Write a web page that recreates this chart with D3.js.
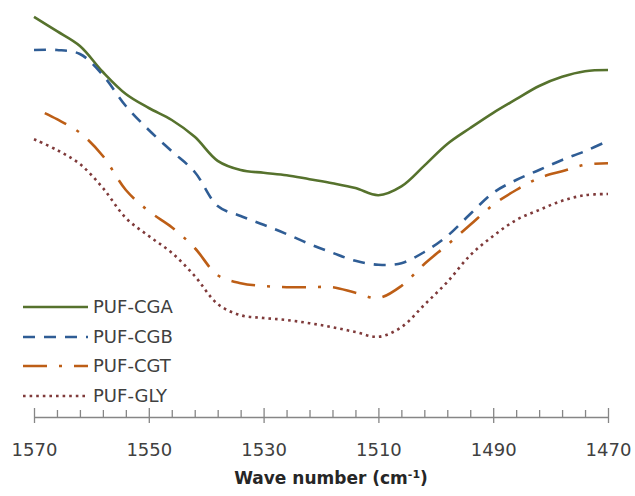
<!DOCTYPE html>
<meta charset="utf-8">
<style>
body { margin: 0; background: #fff; }
.tick text, .legend text { font-family: "DejaVu Sans", Verdana, sans-serif; fill: #404040; }
.axis path, .axis line { stroke: #868686; stroke-width: 1.3; }
.line { fill: none; stroke-width: 2.6; }
</style>
<body>
<script src="https://cdnjs.cloudflare.com/ajax/libs/d3/7.8.5/d3.min.js"></script>
<script>
// wave numbers (cm-1), every 4 units
const waveNumbers = [1570, 1566, 1562, 1558, 1554, 1550, 1546, 1542, 1538, 1534, 1530, 1526, 1522,
                     1518, 1514, 1510, 1506, 1502, 1498, 1494, 1490, 1486, 1482, 1478, 1474, 1470];

// transmittance, arbitrary units
const cga = [100.8, 97.2, 93.5, 87.0, 81.5, 78.0, 75.0, 70.8, 64.8, 62.5, 61.8, 61.2, 60.2,
             59.2, 58.0, 56.2, 58.4, 63.6, 69.0, 73.0, 76.8, 80.2, 83.5, 85.8, 87.2, 87.5];
const cgb = [92.5, 92.5, 91.5, 86.2, 78.5, 72.5, 67.2, 62.0, 53.5, 51.0, 48.8, 46.5, 44.0,
             41.8, 39.8, 38.8, 39.2, 42.0, 46.0, 51.5, 56.8, 60.0, 62.5, 65.0, 67.2, 69.8];
const cgt = [78.0, 75.2, 71.8, 66.0, 57.5, 52.2, 48.2, 43.0, 36.2, 34.2, 33.5, 33.2, 33.2,
             33.2, 31.8, 30.5, 33.5, 39.0, 43.8, 48.8, 53.8, 57.5, 60.5, 62.2, 63.8, 64.2];
const gly = [70.2, 67.5, 64.0, 58.0, 50.5, 46.0, 41.8, 36.0, 29.0, 26.2, 25.5, 25.0, 24.2,
             23.2, 22.0, 20.8, 23.2, 28.8, 34.5, 41.2, 46.0, 50.0, 52.5, 54.8, 56.2, 56.5];

const seriesNames = ["PUF-CGA", "PUF-CGB", "PUF-CGT", "PUF-GLY"];
const majorTicks = [1570, 1550, 1530, 1510, 1490, 1470];

const styles = [
  {color: "#56722d", dash: null, offset: 0},
  {color: "#2f5d95", dash: "12,9", offset: 0},
  {color: "#bd5e16", dash: "24,12,3,12", offset: 39},
  {color: "#7f3a3a", dash: "2.6,4", offset: 0}
];

const series = [cga, cgb, cgt, gly].map((vals, i) => ({
  name: seriesNames[i],
  values: vals.map((v, j) => ({w: waveNumbers[j], v: v}))
}));

const width = 635, height = 496, axisY = 417;

const x = d3.scaleLinear().domain([1570, 1470]).range([34, 608]);
const y = d3.scaleLinear().domain([0, 100]).range([420, 20]);

const svg = d3.select("body").append("svg")
    .attr("width", width)
    .attr("height", height);

const line = d3.line()
    .x(d => x(d.w))
    .y(d => y(d.v))
    .curve(d3.curveCatmullRom.alpha(0.5));

svg.selectAll(".line")
    .data(series)
  .enter().append("path")
    .attr("class", "line")
    .attr("d", d => line(d.values))
    .attr("stroke", (d, i) => styles[i].color)
    .attr("stroke-dasharray", (d, i) => styles[i].dash)
    .attr("stroke-dashoffset", (d, i) => styles[i].offset);

// minor ticks (inside, pointing up)
const minor = d3.range(1566, 1470, -4).filter(v => majorTicks.indexOf(v) < 0);
svg.append("g")
    .attr("class", "axis")
    .attr("transform", "translate(0," + axisY + ")")
    .call(d3.axisBottom(x).tickValues(minor).tickSize(-7).tickFormat(""))
    .select(".domain").remove();

// major ticks (cross) and labels
const gx = svg.append("g")
    .attr("class", "axis")
    .attr("transform", "translate(0," + axisY + ")")
    .call(d3.axisBottom(x).tickValues(majorTicks).tickSize(6).tickSizeOuter(0)
          .tickPadding(20).tickFormat(d3.format("d")));
gx.selectAll(".tick line").attr("y1", -9);
gx.selectAll(".tick text").style("font-size", "18px");

svg.append("text")
    .attr("x", 331)
    .attr("y", 484)
    .attr("text-anchor", "middle")
    .style("font-family", "'DejaVu Sans', Verdana, sans-serif")
    .style("font-weight", "bold")
    .style("font-size", "17px")
    .style("fill", "#262626")
    .html("Wave number (cm<tspan dy='-6' font-size='11px'>-1</tspan><tspan dy='6'>)</tspan>");

// legend
const legend = svg.append("g").attr("class", "legend")
  .selectAll("g")
    .data(series)
  .enter().append("g")
    .attr("transform", (d, i) => "translate(23," + [307, 337, 366, 396][i] + ")");

legend.append("line")
    .attr("x1", 0).attr("x2", 65)
    .attr("stroke-width", 2.6)
    .attr("stroke", (d, i) => styles[i].color)
    .attr("stroke-dasharray", (d, i) => styles[i].dash);

legend.append("text")
    .attr("x", 70)
    .attr("dy", "0.36em")
    .style("font-size", "18px")
    .text(d => d.name);
</script>
</body>
